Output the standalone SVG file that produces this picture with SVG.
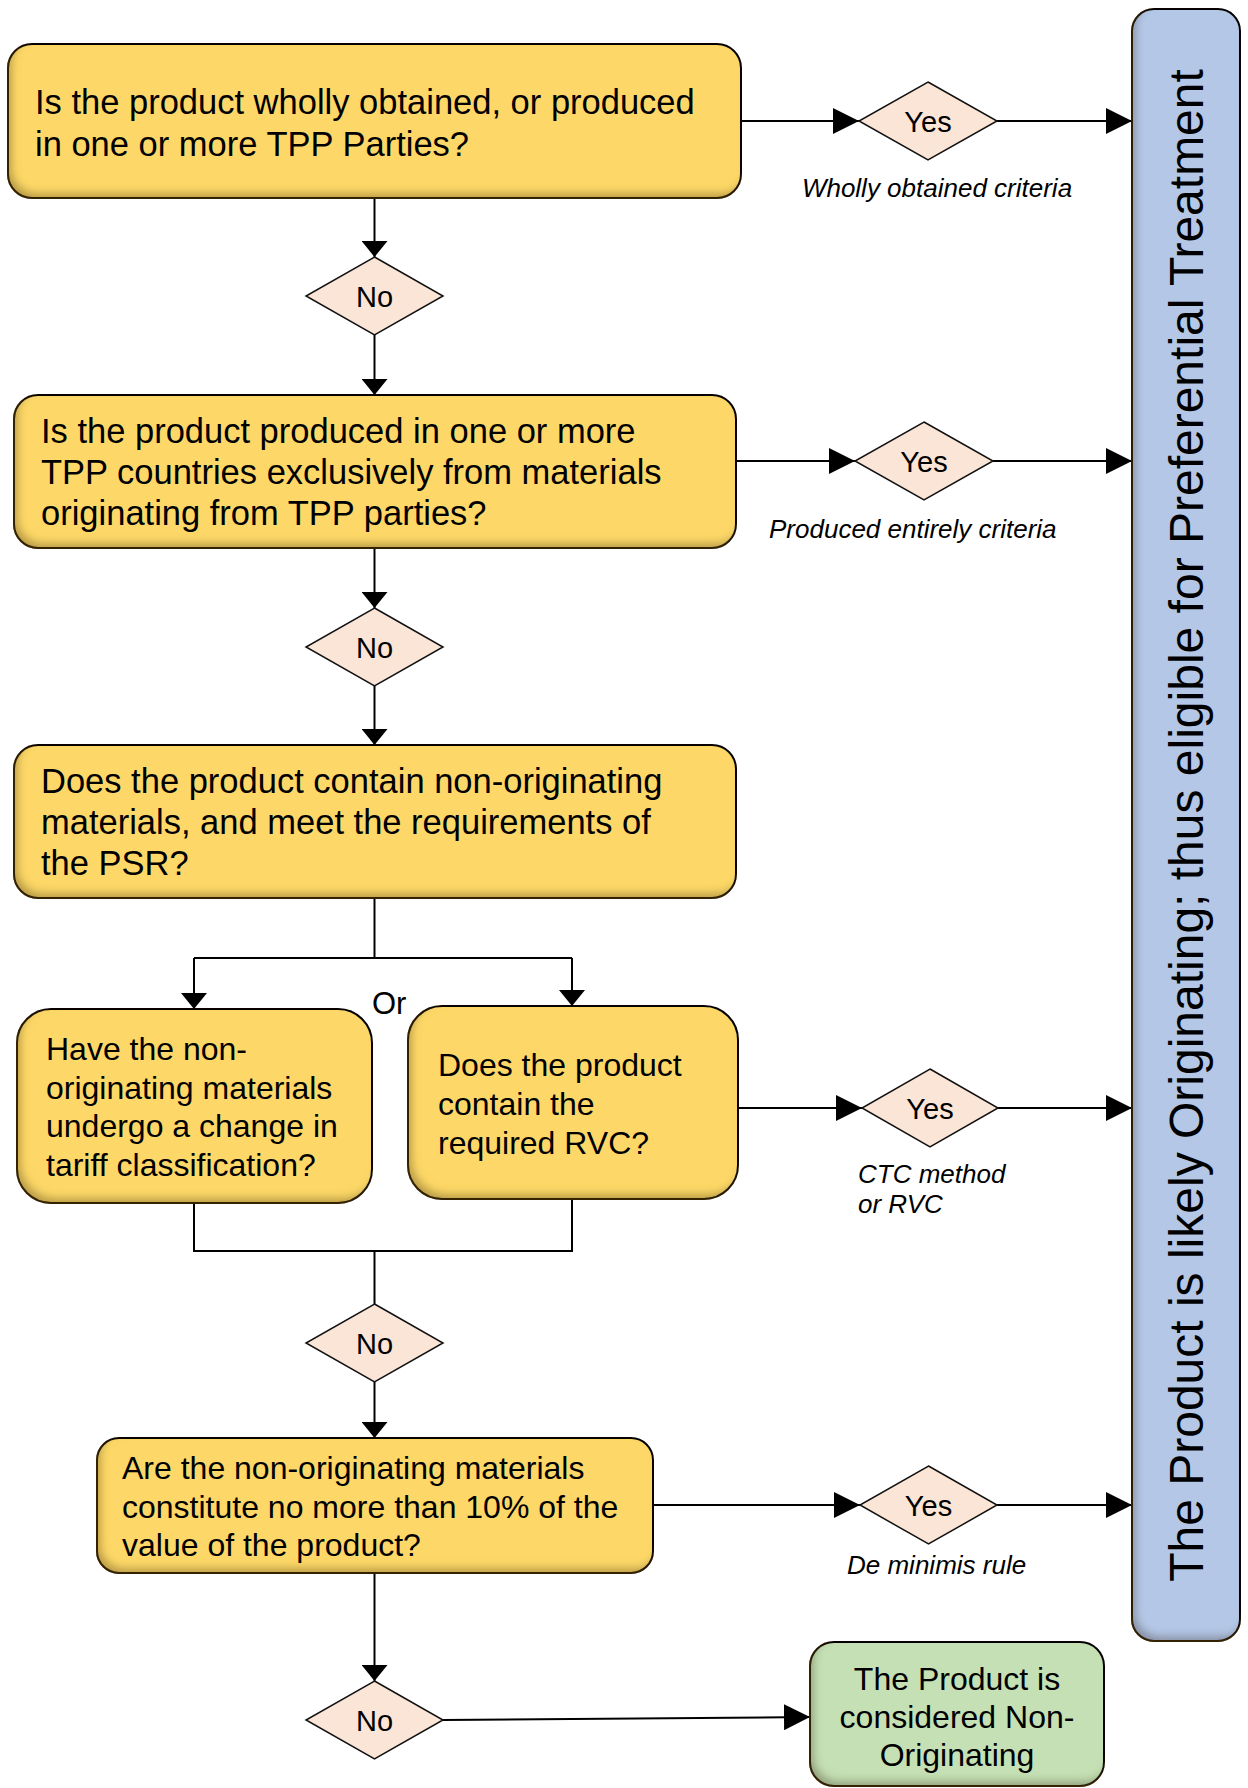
<svg xmlns="http://www.w3.org/2000/svg" width="1248" height="1788" viewBox="0 0 1248 1788">
<style>
  text { font-family: "Liberation Sans", Arial, sans-serif; fill: #000; }
  .q { font-size: 34.5px; }
  .qs { font-size: 32px; }
  .dt { font-size: 29px; text-anchor: middle; }
  .lbl { font-size: 26px; font-style: italic; }
  .ybox { fill: #FDD868; stroke: #111; stroke-width: 2; filter: url(#ish); }
  .bbox { fill: #B4C7E7; stroke: #111; stroke-width: 2; filter: url(#ish); }
  .gbox { fill: #C5E0B4; stroke: #111; stroke-width: 2; filter: url(#ish); }
  .dia { fill: #FBE5D6; stroke: #111; stroke-width: 1.5; }
  .ln { fill: none; stroke: #000; stroke-width: 2; }
  .ah { marker-end: url(#arrH); }
  .av { marker-end: url(#arrV); }
</style>
<defs>
  <filter id="ish" x="-10%" y="-10%" width="120%" height="120%">
    <feComponentTransfer in="SourceAlpha" result="inv"><feFuncA type="table" tableValues="1 0"/></feComponentTransfer>
    <feOffset in="inv" dx="5" dy="-6" result="off"/>
    <feGaussianBlur in="off" stdDeviation="4" result="blur"/>
    <feFlood flood-color="#4a3200" flood-opacity="0.55" result="col"/>
    <feComposite in="col" in2="blur" operator="in" result="sh"/>
    <feComposite in="sh" in2="SourceAlpha" operator="in" result="inner"/>
    <feMerge><feMergeNode in="SourceGraphic"/><feMergeNode in="inner"/></feMerge>
  </filter>
  <marker id="arrH" markerUnits="userSpaceOnUse" markerWidth="26" markerHeight="26" refX="26" refY="13" orient="auto">
    <path d="M0,0 L26,13 L0,26 Z" fill="#000"/>
  </marker>
  <marker id="arrV" markerUnits="userSpaceOnUse" markerWidth="16" markerHeight="26" refX="16" refY="13" orient="auto">
    <path d="M0,0 L16,13 L0,26 Z" fill="#000"/>
  </marker>
</defs>
<rect width="1248" height="1788" fill="#fff"/>

<g id="connectors">
  <path class="ln av" d="M374.5,198 V257"/>
  <path class="ln av" d="M374.5,335 V395"/>
  <path class="ln av" d="M374.5,548 V608"/>
  <path class="ln av" d="M374.5,686 V745"/>
  <path class="ln" d="M374.5,898 V958"/>
  <path class="ln" d="M194,958 H572"/>
  <path class="ln av" d="M194,958 V1009"/>
  <path class="ln av" d="M572,958 V1006"/>
  <path class="ln" d="M194,1203 V1251 H572 V1199"/>
  <path class="ln" d="M374.5,1251 V1304"/>
  <path class="ln av" d="M374.5,1382 V1438"/>
  <path class="ln av" d="M374.5,1573 V1681"/>
  <path class="ln ah" d="M443,1720 L810,1717"/>
  <path class="ln ah" d="M741,121 H859"/>
  <path class="ln ah" d="M997,121 H1132"/>
  <path class="ln ah" d="M736,461 H855"/>
  <path class="ln ah" d="M993,461 H1132"/>
  <path class="ln ah" d="M738,1108 H862"/>
  <path class="ln ah" d="M998,1108 H1132"/>
  <path class="ln ah" d="M654,1505 H860"/>
  <path class="ln ah" d="M997,1505 H1132"/>
  <text class="lbl" x="937" y="197" text-anchor="middle">Wholly obtained criteria</text>
  <text class="lbl" x="769" y="538">Produced entirely criteria</text>
  <text class="lbl" x="858" y="1183">CTC method</text>
  <text class="lbl" x="858" y="1213">or RVC</text>
  <text class="lbl" x="847" y="1574">De minimis rule</text>
  <text x="372" y="1014" style="font-size:31px">Or</text>
</g>

<g id="q1">
  <rect class="ybox" x="8" y="44" width="733" height="154" rx="24"/>
  <text class="q" x="35" y="114">Is the product wholly obtained, or produced</text>
  <text class="q" x="35" y="156">in one or more TPP Parties?</text>
</g>
<g id="no1">
  <polygon class="dia" points="374.5,257 443,296 374.5,335 306,296"/>
  <text class="dt" x="374.5" y="306.5">No</text>
</g>
<g id="q2">
  <rect class="ybox" x="14" y="395" width="722" height="153" rx="24"/>
  <text class="q" x="41" y="443">Is the product produced in one or more</text>
  <text class="q" x="41" y="484">TPP countries exclusively from materials</text>
  <text class="q" x="41" y="525">originating from TPP parties?</text>
</g>
<g id="no2">
  <polygon class="dia" points="374.5,608 443,647 374.5,686 306,647"/>
  <text class="dt" x="374.5" y="657.5">No</text>
</g>
<g id="q3">
  <rect class="ybox" x="14" y="745" width="722" height="153" rx="24"/>
  <text class="q" x="41" y="793">Does the product contain non-originating</text>
  <text class="q" x="41" y="834">materials, and meet the requirements of</text>
  <text class="q" x="41" y="875">the PSR?</text>
</g>
<g id="q4">
  <rect class="ybox" x="17" y="1009" width="355" height="194" rx="34"/>
  <text class="qs" x="46" y="1060">Have the non-</text>
  <text class="qs" x="46" y="1098.5">originating materials</text>
  <text class="qs" x="46" y="1137">undergo a change in</text>
  <text class="qs" x="46" y="1175.5">tariff classification?</text>
</g>
<g id="q5">
  <rect class="ybox" x="408" y="1006" width="330" height="193" rx="34"/>
  <text class="qs" x="438" y="1076">Does the product</text>
  <text class="qs" x="438" y="1115">contain the</text>
  <text class="qs" x="438" y="1154">required RVC?</text>
</g>
<g id="no3">
  <polygon class="dia" points="374.5,1304 443,1343 374.5,1382 306,1343"/>
  <text class="dt" x="374.5" y="1353.5">No</text>
</g>
<g id="q6">
  <rect class="ybox" x="97" y="1438" width="556" height="135" rx="22"/>
  <text class="qs" x="122" y="1479">Are the non-originating materials</text>
  <text class="qs" x="122" y="1518">constitute no more than 10% of the</text>
  <text class="qs" x="122" y="1556">value of the product?</text>
</g>
<g id="no4">
  <polygon class="dia" points="374.5,1681 443,1720 374.5,1759 306,1720"/>
  <text class="dt" x="374.5" y="1730.5">No</text>
</g>
<g id="yes1">
  <polygon class="dia" points="928,82 997,121 928,160 859,121"/>
  <text class="dt" x="928" y="131.5">Yes</text>
</g>
<g id="yes2">
  <polygon class="dia" points="924,422 993,461 924,500 855,461"/>
  <text class="dt" x="924" y="471.5">Yes</text>
</g>
<g id="yes3">
  <polygon class="dia" points="930,1069 998,1108 930,1147 862,1108"/>
  <text class="dt" x="930" y="1118.5">Yes</text>
</g>
<g id="yes4">
  <polygon class="dia" points="928.5,1466 997,1505 928.5,1544 860,1505"/>
  <text class="dt" x="928.5" y="1515.5">Yes</text>
</g>
<g id="originating">
  <rect class="bbox" x="1132" y="9" width="108" height="1632" rx="22"/>
  <text x="1203" y="825.5" text-anchor="middle" style="font-size:48px" transform="rotate(-90 1203 825.5)">The Product is likely Originating; thus eligible for Preferential Treatment</text>
</g>
<g id="nonoriginating">
  <rect class="gbox" x="810" y="1642" width="294" height="144" rx="24"/>
  <text class="qs" x="957" y="1690" text-anchor="middle">The Product is</text>
  <text class="qs" x="957" y="1728" text-anchor="middle">considered Non-</text>
  <text class="qs" x="957" y="1766" text-anchor="middle">Originating</text>
</g>
</svg>
